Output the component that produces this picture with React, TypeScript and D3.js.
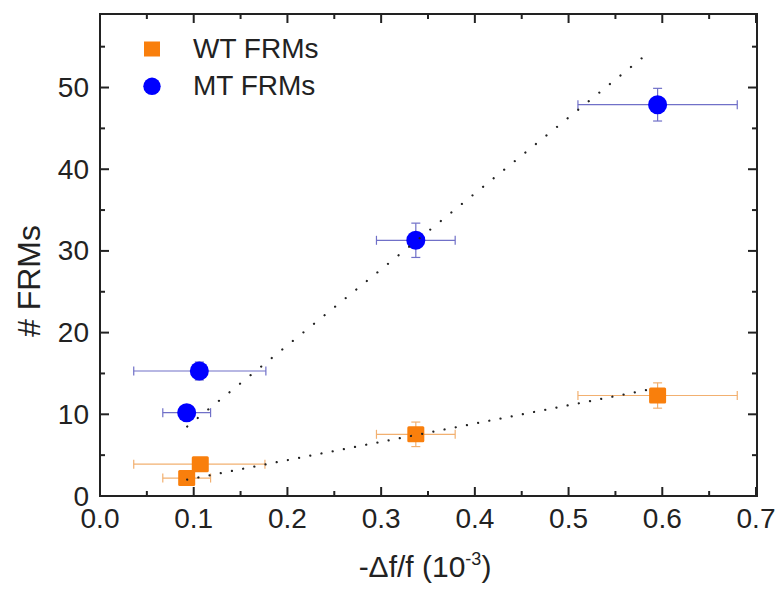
import React from "react";
import * as d3 from "d3";

const mtX = [0.0925, 0.106, 0.337, 0.595];
const mtY = [10.2, 15.3, 31.3, 47.9];
const mtXLo = [0.067, 0.036, 0.295, 0.51];
const mtXHi = [0.118, 0.177, 0.379, 0.68];
const mtYErr = [0.4, 1.1, 2.1, 2.0];

const wtX = [0.0925, 0.107, 0.337, 0.595];
const wtY = [2.2, 3.9, 7.55, 12.3];
const wtXLo = [0.067, 0.036, 0.295, 0.51];
const wtXHi = [0.118, 0.176, 0.379, 0.68];
const wtYErr = [0.4, 0.4, 1.5, 1.55];

const mtFitX = [0.093, 0.589];
const mtFitY = [8.5, 54.6];
const wtFitX = [0.093, 0.589];
const wtFitY = [2.0, 13.1];

const xTicks = [0, 0.1, 0.2, 0.3, 0.4, 0.5, 0.6, 0.7];
const xMinor = [0.05, 0.15, 0.25, 0.35, 0.45, 0.55, 0.65];
const yTicks = [0, 10, 20, 30, 40, 50];
const yMinor = [5, 15, 25, 35, 45, 55];

const ORANGE = "#f97f0c";
const BLUE = "#0000ff";
const BLUE_ERR = "#7070c8";
const ORANGE_ERR = "#f2b070";
const FONT = "Liberation Sans, Arial, sans-serif";

export default function App() {
  const L = 100, R = 757, T = 14, B = 496;
  const x = d3.scaleLinear().domain([0, 0.7]).range([L, 756]);
  const y = d3.scaleLinear().domain([0, 59]).range([B, T]);
  const line = d3.line<[number, number]>().x(d => x(d[0])).y(d => y(d[1]));

  const errBars = (xs: number[], ys: number[], lo: number[], hi: number[], ye: number[], color: string) =>
    xs.map((xv, i) => (
      <g key={i} stroke={color} strokeWidth={1.2} fill="none">
        <line x1={x(lo[i])} x2={x(hi[i])} y1={y(ys[i])} y2={y(ys[i])} />
        <line x1={x(lo[i])} x2={x(lo[i])} y1={y(ys[i]) - 4.5} y2={y(ys[i]) + 4.5} />
        <line x1={x(hi[i])} x2={x(hi[i])} y1={y(ys[i]) - 4.5} y2={y(ys[i]) + 4.5} />
        <line x1={x(xv)} x2={x(xv)} y1={y(ys[i] - ye[i])} y2={y(ys[i] + ye[i])} />
        <line x1={x(xv) - 4.5} x2={x(xv) + 4.5} y1={y(ys[i] - ye[i])} y2={y(ys[i] - ye[i])} />
        <line x1={x(xv) - 4.5} x2={x(xv) + 4.5} y1={y(ys[i] + ye[i])} y2={y(ys[i] + ye[i])} />
      </g>
    ));

  return (
    <svg width={780} height={589} style={{ position: "absolute", left: 0, top: 0, background: "#fff" }}>
      <rect x={0} y={0} width={780} height={589} fill="#fff" />
      {errBars(mtX, mtY, mtXLo, mtXHi, mtYErr, BLUE_ERR)}
      {errBars(wtX, wtY, wtXLo, wtXHi, wtYErr, ORANGE_ERR)}
      {mtX.map((v, i) => (
        <circle key={"m" + i} cx={x(v)} cy={y(mtY[i])} r={9.5} fill={BLUE} />
      ))}
      {wtX.map((v, i) => (
        <rect key={"w" + i} x={x(v) - 8.5} y={y(wtY[i]) - 8} width={17} height={16} rx={1.5} fill={ORANGE} />
      ))}
      {/* fit lines */}
      <path d={line(mtFitX.map((v, i) => [v, mtFitY[i]]) as any) || ""} stroke="#222" strokeWidth={2.2}
        strokeDasharray="0.1 13.5" strokeLinecap="round" fill="none" />
      <path d={line(wtFitX.map((v, i) => [v, wtFitY[i]]) as any) || ""} stroke="#222" strokeWidth={2.2}
        strokeDasharray="0.1 11.3" strokeLinecap="round" fill="none" />
      {/* frame */}
      <rect x={L} y={T} width={R - L} height={B - T} fill="none" stroke="#222" strokeWidth={2} />
      {xTicks.map(t => (
        <g key={"xt" + t} stroke="#222" strokeWidth={2}>
          <line x1={x(t)} x2={x(t)} y1={B} y2={B - 9} />
          <line x1={x(t)} x2={x(t)} y1={T} y2={T + 9} />
        </g>
      ))}
      {xMinor.map(t => (
        <g key={"xm" + t} stroke="#222" strokeWidth={2}>
          <line x1={x(t)} x2={x(t)} y1={B} y2={B - 5} />
          <line x1={x(t)} x2={x(t)} y1={T} y2={T + 5} />
        </g>
      ))}
      {yTicks.map(t => (
        <g key={"yt" + t} stroke="#222" strokeWidth={2}>
          <line x1={L} x2={L + 9} y1={y(t)} y2={y(t)} />
          <line x1={R} x2={R - 9} y1={y(t)} y2={y(t)} />
        </g>
      ))}
      {yMinor.map(t => (
        <g key={"ym" + t} stroke="#222" strokeWidth={2}>
          <line x1={L} x2={L + 5} y1={y(t)} y2={y(t)} />
          <line x1={R} x2={R - 5} y1={y(t)} y2={y(t)} />
        </g>
      ))}
      {xTicks.map(t => (
        <text key={"xl" + t} x={x(t)} y={528} textAnchor="middle" fontFamily={FONT} fontSize={28} fill="#222">
          {d3.format(".1f")(t)}
        </text>
      ))}
      {yTicks.map(t => (
        <text key={"yl" + t} x={89} y={y(t) + 9.5} textAnchor="end" fontFamily={FONT} fontSize={28} fill="#222">
          {t}
        </text>
      ))}
      {/* axis titles */}
      <text x={425} y={577} textAnchor="middle" fontFamily={FONT} fontSize={30} fill="#222">
        -Δf/f (10<tspan dy={-12} fontSize={18}>-3</tspan><tspan dy={12}>)</tspan>
      </text>
      <text transform="translate(40,281) rotate(-90)" textAnchor="middle" fontFamily={FONT} fontSize={32} fill="#222">
        # FRMs
      </text>
      {/* legend */}
      <rect x={144} y={41.5} width={16} height={15} fill={ORANGE} />
      <text x={193} y={58} fontFamily={FONT} fontSize={28} fill="#222">WT FRMs</text>
      <circle cx={152} cy={86.3} r={8.7} fill={BLUE} />
      <text x={193} y={95} fontFamily={FONT} fontSize={28} fill="#222">MT FRMs</text>
    </svg>
  );
}
